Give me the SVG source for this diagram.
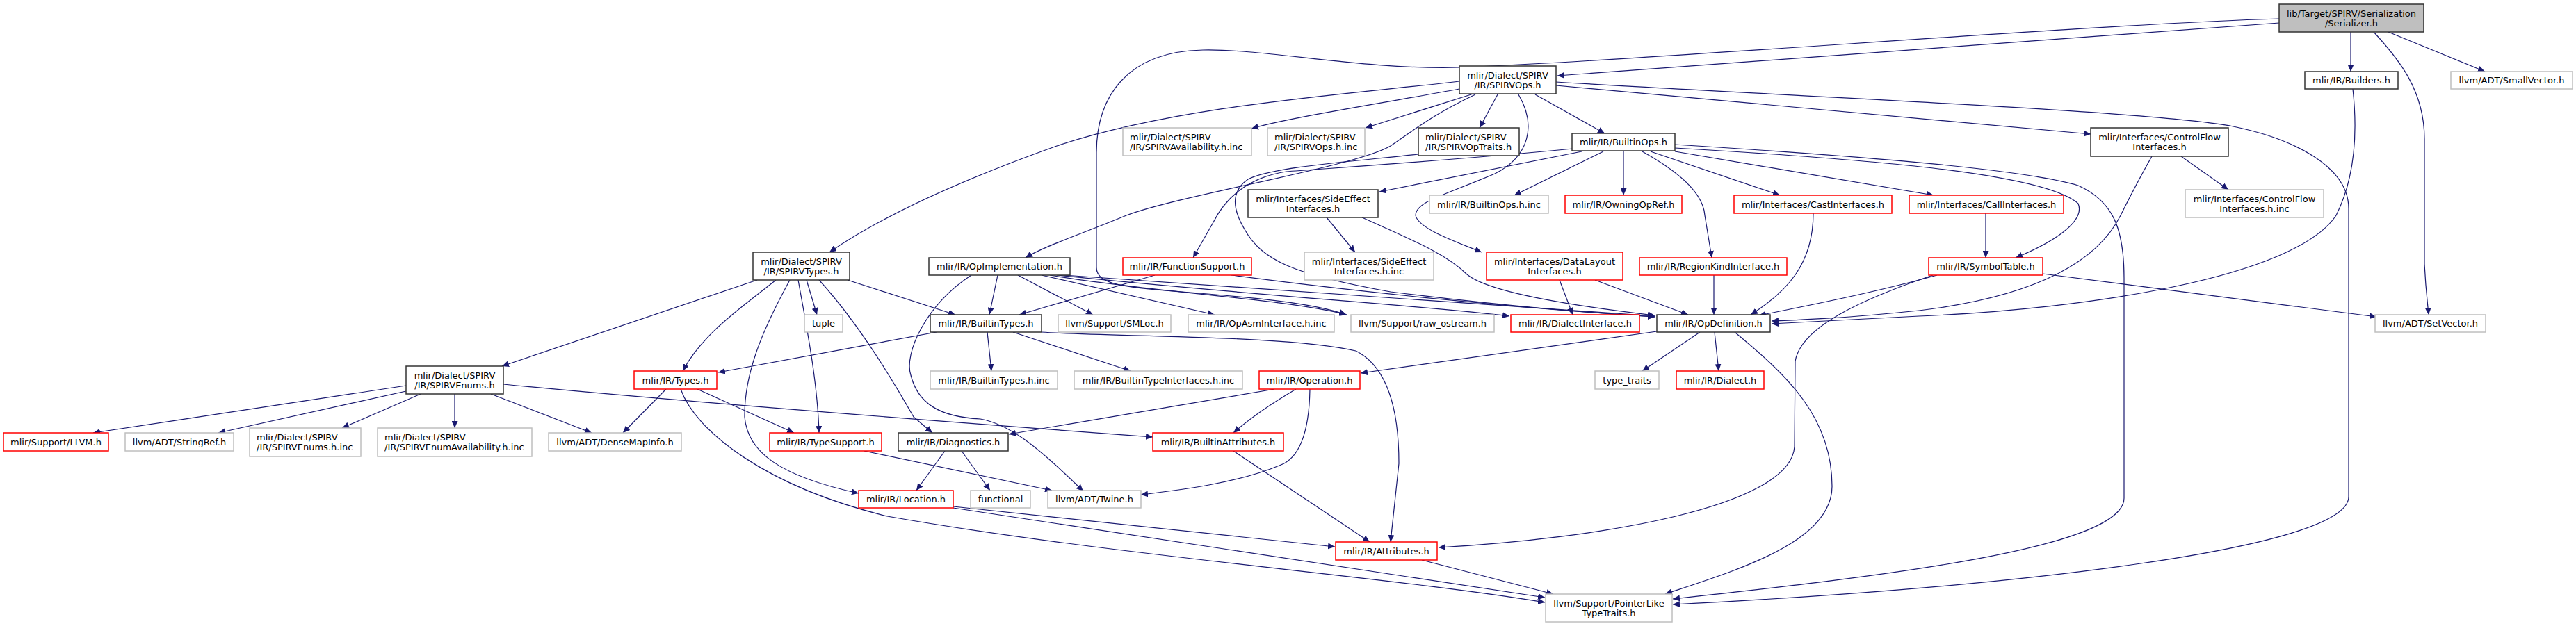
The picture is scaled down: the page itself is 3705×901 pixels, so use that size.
<svg xmlns="http://www.w3.org/2000/svg" width="3705" height="901" viewBox="0 0 3705 901">
<style>
text{font-family:"DejaVu Sans","Liberation Sans",sans-serif;font-size:13px;fill:#000;text-anchor:middle}
text.l{text-anchor:start}
rect{fill:#fff;stroke-width:1.5}
.k rect{stroke:#333}
.g rect{stroke:#bfbfbf}
.r rect{stroke:#ff0000}
.root rect{stroke:#333;fill:#bfbfbf}
#edges path{fill:none;stroke:#191970;stroke-width:1.2;marker-end:url(#a)}
</style>
<defs>
<marker id="a" markerUnits="userSpaceOnUse" markerWidth="11" markerHeight="9" refX="10" refY="4.5" orient="auto"><path d="M0,0 L10,4.5 L0,9 z" fill="#191970"/></marker>
</defs>
<rect x="0" y="0" width="3705" height="901" style="fill:#fff;stroke:none"/>
<g id="edges">
<path d="M3278,33 L2240,109"/>
<path d="M3278,27 C3000,35 2400,85 2100,97 C1960,101 1820,70 1730,72 C1620,74 1577,140 1577,220 L1577,385 C1577,410 1620,414 1700,420 C1800,428 1890,436 1936,453"/>
<path d="M3381,46 L3381,103"/>
<path d="M3435,46 L3574,103"/>
<path d="M3414,46 C3450,85 3487,130 3487,200 L3487,380 C3489,420 3492,440 3493,453"/>
<path d="M2099,117 C1950,135 1700,150 1520,210 C1380,260 1270,310 1193,363"/>
<path d="M2099,128 C1980,150 1850,170 1800,185"/>
<path d="M2119,135 L1964,184"/>
<path d="M2122,136 C2060,165 2030,190 2000,210 C1950,240 1700,280 1620,310 C1560,335 1500,355 1475,371"/>
<path d="M2154,136 L2128,184"/>
<path d="M2184,136 C2210,180 2200,225 2150,250 C2080,280 2036,290 2036,310 C2040,330 2100,350 2131,363"/>
<path d="M2208,136 L2308,192"/>
<path d="M2238,123 L3007,193"/>
<path d="M2238,118 C2600,140 3100,160 3212,182 C3300,200 3378,240 3378,300 L3378,715 C3378,790 2900,845 2406,870"/>
<path d="M2409,208 C2600,220 2900,240 2989,267 C3040,290 3055,330 3055,400 L3055,717 C3055,790 2700,830 2406,862"/>
<path d="M2409,213 C2700,230 2941,250 2989,293 C3000,320 2950,350 2899,371"/>
<path d="M2409,218 L2781,281"/>
<path d="M2374,218 L2560,281"/>
<path d="M2362,218 C2420,250 2450,280 2452,310 L2462,371"/>
<path d="M2335,218 L2335,281"/>
<path d="M2306,218 L2178,281"/>
<path d="M2275,218 L1984,276"/>
<path d="M2262,214 C2100,230 1900,243 1850,247 C1790,256 1760,290 1745,320 L1716,371"/>
<path d="M2040,222 C1950,232 1830,240 1795,258 C1770,275 1772,300 1790,330 C1815,375 1860,395 2000,420 C2200,445 2320,452 2380,456"/>
<path d="M3095,225 C3075,260 3060,290 3050,310 C3010,390 2900,430 2760,447 C2650,458 2600,460 2548,462"/>
<path d="M3137,225 L3205,273"/>
<path d="M3384,128 C3392,200 3385,260 3360,310 C3300,400 3000,445 2760,455 L2548,466"/>
<path d="M2856,307 L2856,371"/>
<path d="M2608,307 C2608,380 2570,420 2518,453"/>
<path d="M2786,396 C2700,420 2600,440 2530,454"/>
<path d="M2780,396 C2680,430 2590,470 2582,520 L2581,643 C2575,730 2300,775 2069,788"/>
<path d="M2938,394 L3418,456"/>
<path d="M2465,396 L2465,453"/>
<path d="M2243,403 L2262,453"/>
<path d="M2294,403 L2428,453"/>
<path d="M1908,313 L1949,363"/>
<path d="M1959,313 C2030,345 2080,365 2110,395 C2140,420 2260,440 2380,454"/>
<path d="M1089,403 L722,527"/>
<path d="M1116,403 C1070,440 1010,480 982,534"/>
<path d="M1136,403 C1105,460 1070,530 1071,600 C1075,650 1120,685 1235,710"/>
<path d="M1148,403 C1160,470 1176,550 1178,623"/>
<path d="M1160,403 L1175,453"/>
<path d="M1178,403 C1230,460 1280,540 1314,600 L1341,623"/>
<path d="M1219,403 L1374,453"/>
<path d="M1435,396 L1423,453"/>
<path d="M1464,396 L1572,453"/>
<path d="M1498,396 L1747,453"/>
<path d="M1510,396 C1650,420 1850,430 1937,453"/>
<path d="M1520,396 C1800,425 2050,440 2171,455"/>
<path d="M1530,396 C1900,420 2200,440 2380,455"/>
<path d="M1397,396 C1330,440 1300,510 1310,540 C1320,580 1350,600 1410,603 C1450,610 1490,640 1558,707"/>
<path d="M1661,396 L1466,453"/>
<path d="M1771,396 C1950,420 2200,445 2380,456"/>
<path d="M1347,478 L1033,536"/>
<path d="M1420,478 L1426,534"/>
<path d="M1457,478 L1626,534"/>
<path d="M1498,478 C1600,485 1850,482 1950,505 C2000,530 2012,600 2012,667 L2000,780"/>
<path d="M2383,477 L1957,537"/>
<path d="M2445,478 L2362,534"/>
<path d="M2466,478 L2472,534"/>
<path d="M2495,478 C2570,540 2635,600 2635,700 C2635,780 2500,820 2395,855"/>
<path d="M584,555 L134,623"/>
<path d="M584,563 L314,623"/>
<path d="M605,567 L492,616"/>
<path d="M654,567 L654,616"/>
<path d="M706,567 L851,623"/>
<path d="M724,553 C1000,580 1400,610 1658,629"/>
<path d="M958,560 L896,623"/>
<path d="M1003,560 L1142,623"/>
<path d="M979,560 C1000,620 1100,700 1276,743 C1600,800 2000,830 2222,867"/>
<path d="M1243,649 L1513,706"/>
<path d="M1359,649 L1318,706"/>
<path d="M1383,649 L1424,706"/>
<path d="M1833,560 L1451,625"/>
<path d="M1864,560 C1830,580 1800,600 1774,623"/>
<path d="M1884,560 C1883,620 1870,660 1840,670 C1780,695 1700,705 1641,712"/>
<path d="M1774,649 L1970,780"/>
<path d="M1371,729 L1920,787"/>
<path d="M1371,731 L2222,860"/>
<path d="M2045,806 L2234,855"/>
</g>
<g id="n_serializer" class="root"><rect x="3278" y="6" width="208" height="40"/><text x="3382" y="23.5">lib/Target/SPIRV/Serialization</text><text x="3382" y="37.5">/Serializer.h</text></g>
<g id="n_spirvops" class="k"><rect x="2099" y="95" width="139" height="40"/><text x="2168.5" y="112.5">mlir/Dialect/SPIRV</text><text x="2168.5" y="126.5">/IR/SPIRVOps.h</text></g>
<g id="n_builders" class="k"><rect x="3315" y="103" width="134" height="25"/><text x="3382" y="120">mlir/IR/Builders.h</text></g>
<g id="n_smallvector" class="g"><rect x="3525" y="103" width="175" height="25"/><text x="3612.5" y="120">llvm/ADT/SmallVector.h</text></g>
<g id="n_avail_inc" class="g"><rect x="1615" y="184" width="185" height="40"/><text class="l" x="1625" y="201.5">mlir/Dialect/SPIRV</text><text class="l" x="1625" y="215.5">/IR/SPIRVAvailability.h.inc</text></g>
<g id="n_ops_inc" class="g"><rect x="1823" y="184" width="140" height="40"/><text class="l" x="1833" y="201.5">mlir/Dialect/SPIRV</text><text class="l" x="1833" y="215.5">/IR/SPIRVOps.h.inc</text></g>
<g id="n_optraits" class="k"><rect x="2040" y="184" width="145" height="40"/><text class="l" x="2050" y="201.5">mlir/Dialect/SPIRV</text><text class="l" x="2050" y="215.5">/IR/SPIRVOpTraits.h</text></g>
<g id="n_builtinops" class="k"><rect x="2261" y="192" width="148" height="25"/><text x="2335" y="209">mlir/IR/BuiltinOps.h</text></g>
<g id="n_cfi" class="k"><rect x="3007" y="184" width="198" height="41"/><text x="3106" y="201.5">mlir/Interfaces/ControlFlow</text><text x="3106" y="215.5">Interfaces.h</text></g>
<g id="n_sei" class="k"><rect x="1795" y="273" width="187" height="40"/><text x="1888.5" y="290.5">mlir/Interfaces/SideEffect</text><text x="1888.5" y="304.5">Interfaces.h</text></g>
<g id="n_builtinops_inc" class="g"><rect x="2056" y="281" width="171" height="26"/><text x="2141.5" y="298.5">mlir/IR/BuiltinOps.h.inc</text></g>
<g id="n_owning" class="r"><rect x="2251" y="281" width="168" height="26"/><text x="2335" y="298.5">mlir/IR/OwningOpRef.h</text></g>
<g id="n_cast" class="r"><rect x="2494" y="281" width="227" height="26"/><text x="2607.5" y="298.5">mlir/Interfaces/CastInterfaces.h</text></g>
<g id="n_call" class="r"><rect x="2746" y="281" width="222" height="26"/><text x="2857" y="298.5">mlir/Interfaces/CallInterfaces.h</text></g>
<g id="n_cfi_inc" class="g"><rect x="3143" y="273" width="199" height="40"/><text x="3242.5" y="290.5">mlir/Interfaces/ControlFlow</text><text x="3242.5" y="304.5">Interfaces.h.inc</text></g>
<g id="n_spirvtypes" class="k"><rect x="1083" y="363" width="139" height="40"/><text x="1152.5" y="380.5">mlir/Dialect/SPIRV</text><text x="1152.5" y="394.5">/IR/SPIRVTypes.h</text></g>
<g id="n_opimpl" class="k"><rect x="1336" y="371" width="203" height="25"/><text x="1437.5" y="388">mlir/IR/OpImplementation.h</text></g>
<g id="n_funcsupport" class="r"><rect x="1615" y="371" width="185" height="25"/><text x="1707.5" y="388">mlir/IR/FunctionSupport.h</text></g>
<g id="n_sei_inc" class="g"><rect x="1876" y="363" width="186" height="40"/><text x="1969" y="380.5">mlir/Interfaces/SideEffect</text><text x="1969" y="394.5">Interfaces.h.inc</text></g>
<g id="n_datalayout" class="r"><rect x="2138" y="363" width="196" height="40"/><text x="2236" y="380.5">mlir/Interfaces/DataLayout</text><text x="2236" y="394.5">Interfaces.h</text></g>
<g id="n_regionkind" class="r"><rect x="2358" y="371" width="212" height="25"/><text x="2464" y="388">mlir/IR/RegionKindInterface.h</text></g>
<g id="n_symboltable" class="r"><rect x="2774" y="371" width="164" height="25"/><text x="2856" y="388">mlir/IR/SymbolTable.h</text></g>
<g id="n_tuple" class="g"><rect x="1157" y="453" width="55" height="25"/><text x="1184.5" y="470">tuple</text></g>
<g id="n_builtintypes" class="k"><rect x="1338" y="453" width="160" height="25"/><text x="1418" y="470">mlir/IR/BuiltinTypes.h</text></g>
<g id="n_smloc" class="g"><rect x="1522" y="453" width="162" height="25"/><text x="1603" y="470">llvm/Support/SMLoc.h</text></g>
<g id="n_opasm_inc" class="g"><rect x="1709" y="453" width="210" height="25"/><text x="1814" y="470">mlir/IR/OpAsmInterface.h.inc</text></g>
<g id="n_rawostream" class="g"><rect x="1943" y="453" width="206" height="25"/><text x="2046" y="470">llvm/Support/raw_ostream.h</text></g>
<g id="n_dialectif" class="r"><rect x="2173" y="453" width="185" height="25"/><text x="2265.5" y="470">mlir/IR/DialectInterface.h</text></g>
<g id="n_opdef" class="k"><rect x="2383" y="453" width="163" height="25"/><text x="2464.5" y="470">mlir/IR/OpDefinition.h</text></g>
<g id="n_setvector" class="g"><rect x="3416" y="453" width="159" height="25"/><text x="3495.5" y="470">llvm/ADT/SetVector.h</text></g>
<g id="n_spirvenums" class="k"><rect x="584" y="527" width="140" height="40"/><text x="654" y="544.5">mlir/Dialect/SPIRV</text><text x="654" y="558.5">/IR/SPIRVEnums.h</text></g>
<g id="n_types" class="r"><rect x="912" y="534" width="119" height="26"/><text x="971.5" y="551.5">mlir/IR/Types.h</text></g>
<g id="n_builtintypes_inc" class="g"><rect x="1338" y="534" width="183" height="26"/><text x="1429.5" y="551.5">mlir/IR/BuiltinTypes.h.inc</text></g>
<g id="n_bti_inc" class="g"><rect x="1545" y="534" width="242" height="26"/><text x="1666" y="551.5">mlir/IR/BuiltinTypeInterfaces.h.inc</text></g>
<g id="n_operation" class="r"><rect x="1811" y="534" width="145" height="26"/><text x="1883.5" y="551.5">mlir/IR/Operation.h</text></g>
<g id="n_typetraits" class="g"><rect x="2294" y="534" width="92" height="26"/><text x="2340" y="551.5">type_traits</text></g>
<g id="n_dialect" class="r"><rect x="2411" y="534" width="126" height="26"/><text x="2474" y="551.5">mlir/IR/Dialect.h</text></g>
<g id="n_llvm" class="r"><rect x="5" y="623" width="151" height="26"/><text x="80.5" y="640.5">mlir/Support/LLVM.h</text></g>
<g id="n_stringref" class="g"><rect x="180" y="623" width="156" height="26"/><text x="258" y="640.5">llvm/ADT/StringRef.h</text></g>
<g id="n_enums_inc" class="g"><rect x="359" y="616" width="160" height="41"/><text class="l" x="369" y="633.5">mlir/Dialect/SPIRV</text><text class="l" x="369" y="647.5">/IR/SPIRVEnums.h.inc</text></g>
<g id="n_enumavail_inc" class="g"><rect x="543" y="616" width="222" height="41"/><text class="l" x="553" y="633.5">mlir/Dialect/SPIRV</text><text class="l" x="553" y="647.5">/IR/SPIRVEnumAvailability.h.inc</text></g>
<g id="n_densemap" class="g"><rect x="789" y="623" width="191" height="26"/><text x="884.5" y="640.5">llvm/ADT/DenseMapInfo.h</text></g>
<g id="n_typesupport" class="r"><rect x="1107" y="623" width="161" height="26"/><text x="1187.5" y="640.5">mlir/IR/TypeSupport.h</text></g>
<g id="n_diagnostics" class="k"><rect x="1292" y="623" width="158" height="26"/><text x="1371" y="640.5">mlir/IR/Diagnostics.h</text></g>
<g id="n_builtinattrs" class="r"><rect x="1658" y="623" width="188" height="26"/><text x="1752" y="640.5">mlir/IR/BuiltinAttributes.h</text></g>
<g id="n_location" class="r"><rect x="1235" y="706" width="136" height="25"/><text x="1303" y="723">mlir/IR/Location.h</text></g>
<g id="n_functional" class="g"><rect x="1396" y="706" width="86" height="25"/><text x="1439" y="723">functional</text></g>
<g id="n_twine" class="g"><rect x="1507" y="706" width="134" height="25"/><text x="1574" y="723">llvm/ADT/Twine.h</text></g>
<g id="n_attributes" class="r"><rect x="1921" y="780" width="146" height="26"/><text x="1994" y="797.5">mlir/IR/Attributes.h</text></g>
<g id="n_pointerlike" class="g"><rect x="2223" y="855" width="182" height="40"/><text x="2314" y="872.5">llvm/Support/PointerLike</text><text x="2314" y="886.5">TypeTraits.h</text></g>
</svg>
